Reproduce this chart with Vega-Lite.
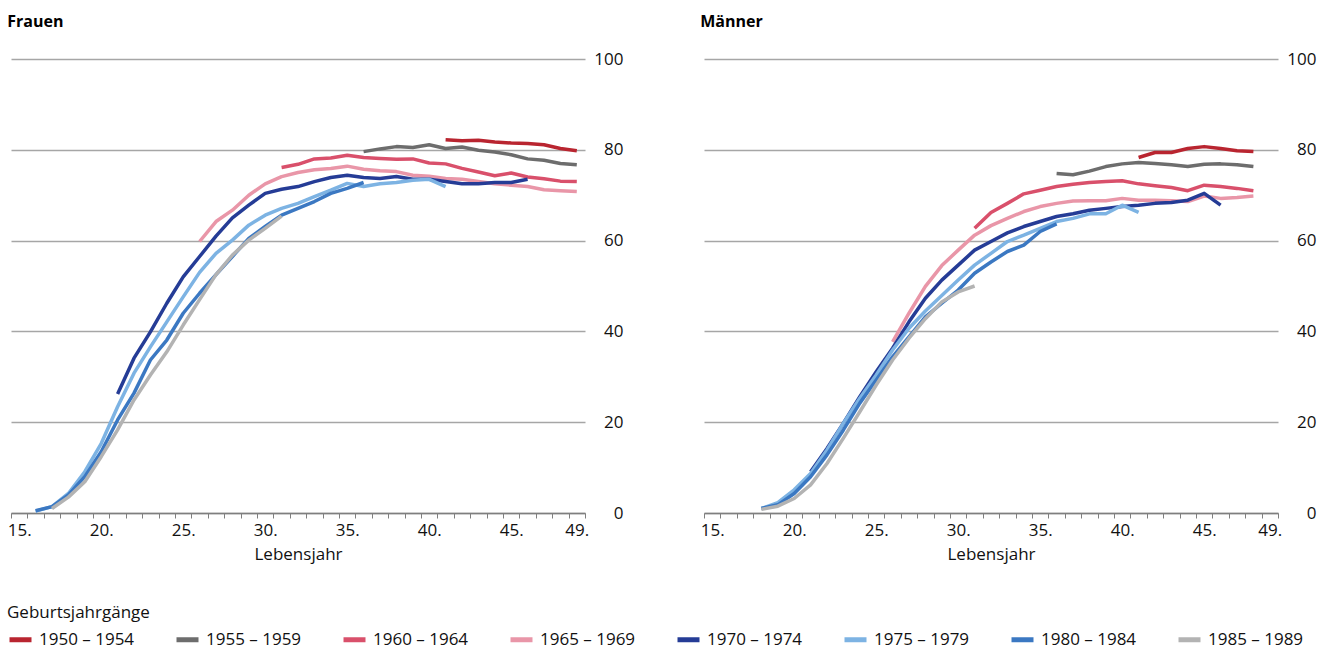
{
  "$schema": "https://vega.github.io/schema/vega-lite/v6.json",
  "padding": {"left": 7, "top": 14, "right": 5, "bottom": 0},
  "config": {
    "font": "Open Sans",
    "view": {"stroke": null},
    "concat": {"spacing": 77},
    "title": {"fontSize": 16, "fontWeight": "bold", "anchor": "start", "color": "#000", "offset": 20},
    "axis": {"labelFontSize": 17, "labelColor": "#111", "titleFontSize": 17, "titleFontWeight": "normal", "titleColor": "#111"},
    "legend": {
      "orient": "none", "legendX": -4, "legendY": 546, "padding": 0, "direction": "horizontal", "columns": 8,
      "titleFontSize": 17, "titleFontWeight": "normal", "titleColor": "#111",
      "labelFontSize": 17, "labelColor": "#111",
      "symbolType": "stroke", "symbolStrokeWidth": 5, "symbolSize": 484,
      "labelOffset": 5, "columnPadding": 31, "titlePadding": 4
    }
  },
  "datasets": {
    "d": [
      {"g":"F","k":"1950 – 1954","a":41,"v":82.2},{"g":"F","k":"1950 – 1954","a":42,"v":82.0},{"g":"F","k":"1950 – 1954","a":43,"v":82.1},{"g":"F","k":"1950 – 1954","a":44,"v":81.7},{"g":"F","k":"1950 – 1954","a":45,"v":81.5},{"g":"F","k":"1950 – 1954","a":46,"v":81.4},{"g":"F","k":"1950 – 1954","a":47,"v":81.1},{"g":"F","k":"1950 – 1954","a":48,"v":80.3},{"g":"F","k":"1950 – 1954","a":49,"v":79.8},
      {"g":"F","k":"1955 – 1959","a":36,"v":79.6},{"g":"F","k":"1955 – 1959","a":37,"v":80.2},{"g":"F","k":"1955 – 1959","a":38,"v":80.7},{"g":"F","k":"1955 – 1959","a":39,"v":80.5},{"g":"F","k":"1955 – 1959","a":40,"v":81.1},{"g":"F","k":"1955 – 1959","a":41,"v":80.3},{"g":"F","k":"1955 – 1959","a":42,"v":80.6},{"g":"F","k":"1955 – 1959","a":43,"v":79.9},{"g":"F","k":"1955 – 1959","a":44,"v":79.5},{"g":"F","k":"1955 – 1959","a":45,"v":78.9},{"g":"F","k":"1955 – 1959","a":46,"v":78.0},{"g":"F","k":"1955 – 1959","a":47,"v":77.7},{"g":"F","k":"1955 – 1959","a":48,"v":77.0},{"g":"F","k":"1955 – 1959","a":49,"v":76.7},
      {"g":"F","k":"1960 – 1964","a":31,"v":76.1},{"g":"F","k":"1960 – 1964","a":32,"v":76.8},{"g":"F","k":"1960 – 1964","a":33,"v":78.0},{"g":"F","k":"1960 – 1964","a":34,"v":78.2},{"g":"F","k":"1960 – 1964","a":35,"v":78.8},{"g":"F","k":"1960 – 1964","a":36,"v":78.3},{"g":"F","k":"1960 – 1964","a":37,"v":78.1},{"g":"F","k":"1960 – 1964","a":38,"v":77.9},{"g":"F","k":"1960 – 1964","a":39,"v":78.0},{"g":"F","k":"1960 – 1964","a":40,"v":77.1},{"g":"F","k":"1960 – 1964","a":41,"v":76.9},{"g":"F","k":"1960 – 1964","a":42,"v":75.9},{"g":"F","k":"1960 – 1964","a":43,"v":75.1},{"g":"F","k":"1960 – 1964","a":44,"v":74.3},{"g":"F","k":"1960 – 1964","a":45,"v":74.9},{"g":"F","k":"1960 – 1964","a":46,"v":74.0},{"g":"F","k":"1960 – 1964","a":47,"v":73.6},{"g":"F","k":"1960 – 1964","a":48,"v":73.1},{"g":"F","k":"1960 – 1964","a":49,"v":73.0},
      {"g":"F","k":"1965 – 1969","a":26,"v":59.8},{"g":"F","k":"1965 – 1969","a":27,"v":64.2},{"g":"F","k":"1965 – 1969","a":28,"v":66.7},{"g":"F","k":"1965 – 1969","a":29,"v":70.0},{"g":"F","k":"1965 – 1969","a":30,"v":72.5},{"g":"F","k":"1965 – 1969","a":31,"v":74.1},{"g":"F","k":"1965 – 1969","a":32,"v":75.0},{"g":"F","k":"1965 – 1969","a":33,"v":75.6},{"g":"F","k":"1965 – 1969","a":34,"v":75.9},{"g":"F","k":"1965 – 1969","a":35,"v":76.4},{"g":"F","k":"1965 – 1969","a":36,"v":75.7},{"g":"F","k":"1965 – 1969","a":37,"v":75.4},{"g":"F","k":"1965 – 1969","a":38,"v":75.2},{"g":"F","k":"1965 – 1969","a":39,"v":74.4},{"g":"F","k":"1965 – 1969","a":40,"v":74.2},{"g":"F","k":"1965 – 1969","a":41,"v":73.7},{"g":"F","k":"1965 – 1969","a":42,"v":73.5},{"g":"F","k":"1965 – 1969","a":43,"v":73.0},{"g":"F","k":"1965 – 1969","a":44,"v":72.5},{"g":"F","k":"1965 – 1969","a":45,"v":72.2},{"g":"F","k":"1965 – 1969","a":46,"v":71.9},{"g":"F","k":"1965 – 1969","a":47,"v":71.2},{"g":"F","k":"1965 – 1969","a":48,"v":71.0},{"g":"F","k":"1965 – 1969","a":49,"v":70.8},
      {"g":"F","k":"1970 – 1974","a":21,"v":26.2},{"g":"F","k":"1970 – 1974","a":22,"v":34.1},{"g":"F","k":"1970 – 1974","a":23,"v":39.9},{"g":"F","k":"1970 – 1974","a":24,"v":46.2},{"g":"F","k":"1970 – 1974","a":25,"v":52.0},{"g":"F","k":"1970 – 1974","a":26,"v":56.5},{"g":"F","k":"1970 – 1974","a":27,"v":61.0},{"g":"F","k":"1970 – 1974","a":28,"v":65.0},{"g":"F","k":"1970 – 1974","a":29,"v":67.8},{"g":"F","k":"1970 – 1974","a":30,"v":70.4},{"g":"F","k":"1970 – 1974","a":31,"v":71.3},{"g":"F","k":"1970 – 1974","a":32,"v":71.9},{"g":"F","k":"1970 – 1974","a":33,"v":73.0},{"g":"F","k":"1970 – 1974","a":34,"v":73.9},{"g":"F","k":"1970 – 1974","a":35,"v":74.4},{"g":"F","k":"1970 – 1974","a":36,"v":73.9},{"g":"F","k":"1970 – 1974","a":37,"v":73.7},{"g":"F","k":"1970 – 1974","a":38,"v":74.1},{"g":"F","k":"1970 – 1974","a":39,"v":73.5},{"g":"F","k":"1970 – 1974","a":40,"v":73.5},{"g":"F","k":"1970 – 1974","a":41,"v":73.0},{"g":"F","k":"1970 – 1974","a":42,"v":72.5},{"g":"F","k":"1970 – 1974","a":43,"v":72.5},{"g":"F","k":"1970 – 1974","a":44,"v":72.8},{"g":"F","k":"1970 – 1974","a":45,"v":72.8},{"g":"F","k":"1970 – 1974","a":46,"v":73.5},
      {"g":"F","k":"1975 – 1979","a":16,"v":0.4},{"g":"F","k":"1975 – 1979","a":17,"v":1.4},{"g":"F","k":"1975 – 1979","a":18,"v":4.3},{"g":"F","k":"1975 – 1979","a":19,"v":9.1},{"g":"F","k":"1975 – 1979","a":20,"v":15.3},{"g":"F","k":"1975 – 1979","a":21,"v":23.4},{"g":"F","k":"1975 – 1979","a":22,"v":30.8},{"g":"F","k":"1975 – 1979","a":23,"v":36.6},{"g":"F","k":"1975 – 1979","a":24,"v":42.1},{"g":"F","k":"1975 – 1979","a":25,"v":47.6},{"g":"F","k":"1975 – 1979","a":26,"v":53.0},{"g":"F","k":"1975 – 1979","a":27,"v":57.2},{"g":"F","k":"1975 – 1979","a":28,"v":60.1},{"g":"F","k":"1975 – 1979","a":29,"v":63.4},{"g":"F","k":"1975 – 1979","a":30,"v":65.6},{"g":"F","k":"1975 – 1979","a":31,"v":67.1},{"g":"F","k":"1975 – 1979","a":32,"v":68.2},{"g":"F","k":"1975 – 1979","a":33,"v":69.7},{"g":"F","k":"1975 – 1979","a":34,"v":71.1},{"g":"F","k":"1975 – 1979","a":35,"v":72.6},{"g":"F","k":"1975 – 1979","a":36,"v":71.9},{"g":"F","k":"1975 – 1979","a":37,"v":72.5},{"g":"F","k":"1975 – 1979","a":38,"v":72.8},{"g":"F","k":"1975 – 1979","a":39,"v":73.3},{"g":"F","k":"1975 – 1979","a":40,"v":73.5},{"g":"F","k":"1975 – 1979","a":41,"v":71.9},
      {"g":"F","k":"1980 – 1984","a":16,"v":0.5},{"g":"F","k":"1980 – 1984","a":17,"v":1.4},{"g":"F","k":"1980 – 1984","a":18,"v":4.0},{"g":"F","k":"1980 – 1984","a":19,"v":8.0},{"g":"F","k":"1980 – 1984","a":20,"v":13.5},{"g":"F","k":"1980 – 1984","a":21,"v":20.5},{"g":"F","k":"1980 – 1984","a":22,"v":26.4},{"g":"F","k":"1980 – 1984","a":23,"v":33.7},{"g":"F","k":"1980 – 1984","a":24,"v":38.1},{"g":"F","k":"1980 – 1984","a":25,"v":44.0},{"g":"F","k":"1980 – 1984","a":26,"v":48.4},{"g":"F","k":"1980 – 1984","a":27,"v":52.5},{"g":"F","k":"1980 – 1984","a":28,"v":56.5},{"g":"F","k":"1980 – 1984","a":29,"v":60.5},{"g":"F","k":"1980 – 1984","a":30,"v":63.1},{"g":"F","k":"1980 – 1984","a":31,"v":65.6},{"g":"F","k":"1980 – 1984","a":32,"v":67.1},{"g":"F","k":"1980 – 1984","a":33,"v":68.6},{"g":"F","k":"1980 – 1984","a":34,"v":70.4},{"g":"F","k":"1980 – 1984","a":35,"v":71.5},{"g":"F","k":"1980 – 1984","a":36,"v":72.8},
      {"g":"F","k":"1985 – 1989","a":17,"v":1.0},{"g":"F","k":"1985 – 1989","a":18,"v":3.5},{"g":"F","k":"1985 – 1989","a":19,"v":6.9},{"g":"F","k":"1985 – 1989","a":20,"v":12.4},{"g":"F","k":"1985 – 1989","a":21,"v":18.3},{"g":"F","k":"1985 – 1989","a":22,"v":24.9},{"g":"F","k":"1985 – 1989","a":23,"v":30.4},{"g":"F","k":"1985 – 1989","a":24,"v":35.5},{"g":"F","k":"1985 – 1989","a":25,"v":41.4},{"g":"F","k":"1985 – 1989","a":26,"v":47.0},{"g":"F","k":"1985 – 1989","a":27,"v":52.5},{"g":"F","k":"1985 – 1989","a":28,"v":56.8},{"g":"F","k":"1985 – 1989","a":29,"v":60.1},{"g":"F","k":"1985 – 1989","a":30,"v":62.7},{"g":"F","k":"1985 – 1989","a":31,"v":65.4},

      {"g":"M","k":"1950 – 1954","a":41,"v":78.3},{"g":"M","k":"1950 – 1954","a":42,"v":79.4},{"g":"M","k":"1950 – 1954","a":43,"v":79.4},{"g":"M","k":"1950 – 1954","a":44,"v":80.3},{"g":"M","k":"1950 – 1954","a":45,"v":80.7},{"g":"M","k":"1950 – 1954","a":46,"v":80.3},{"g":"M","k":"1950 – 1954","a":47,"v":79.8},{"g":"M","k":"1950 – 1954","a":48,"v":79.6},
      {"g":"M","k":"1955 – 1959","a":36,"v":74.8},{"g":"M","k":"1955 – 1959","a":37,"v":74.5},{"g":"M","k":"1955 – 1959","a":38,"v":75.3},{"g":"M","k":"1955 – 1959","a":39,"v":76.3},{"g":"M","k":"1955 – 1959","a":40,"v":76.9},{"g":"M","k":"1955 – 1959","a":41,"v":77.2},{"g":"M","k":"1955 – 1959","a":42,"v":77.0},{"g":"M","k":"1955 – 1959","a":43,"v":76.7},{"g":"M","k":"1955 – 1959","a":44,"v":76.3},{"g":"M","k":"1955 – 1959","a":45,"v":76.8},{"g":"M","k":"1955 – 1959","a":46,"v":76.9},{"g":"M","k":"1955 – 1959","a":47,"v":76.7},{"g":"M","k":"1955 – 1959","a":48,"v":76.3},
      {"g":"M","k":"1960 – 1964","a":31,"v":62.7},{"g":"M","k":"1960 – 1964","a":32,"v":66.2},{"g":"M","k":"1960 – 1964","a":33,"v":68.2},{"g":"M","k":"1960 – 1964","a":34,"v":70.3},{"g":"M","k":"1960 – 1964","a":35,"v":71.1},{"g":"M","k":"1960 – 1964","a":36,"v":71.9},{"g":"M","k":"1960 – 1964","a":37,"v":72.4},{"g":"M","k":"1960 – 1964","a":38,"v":72.8},{"g":"M","k":"1960 – 1964","a":39,"v":73.0},{"g":"M","k":"1960 – 1964","a":40,"v":73.2},{"g":"M","k":"1960 – 1964","a":41,"v":72.5},{"g":"M","k":"1960 – 1964","a":42,"v":72.1},{"g":"M","k":"1960 – 1964","a":43,"v":71.7},{"g":"M","k":"1960 – 1964","a":44,"v":71.0},{"g":"M","k":"1960 – 1964","a":45,"v":72.2},{"g":"M","k":"1960 – 1964","a":46,"v":71.9},{"g":"M","k":"1960 – 1964","a":47,"v":71.5},{"g":"M","k":"1960 – 1964","a":48,"v":71.0},
      {"g":"M","k":"1965 – 1969","a":26,"v":37.7},{"g":"M","k":"1965 – 1969","a":27,"v":44.0},{"g":"M","k":"1965 – 1969","a":28,"v":49.9},{"g":"M","k":"1965 – 1969","a":29,"v":54.5},{"g":"M","k":"1965 – 1969","a":30,"v":57.9},{"g":"M","k":"1965 – 1969","a":31,"v":61.2},{"g":"M","k":"1965 – 1969","a":32,"v":63.3},{"g":"M","k":"1965 – 1969","a":33,"v":64.9},{"g":"M","k":"1965 – 1969","a":34,"v":66.4},{"g":"M","k":"1965 – 1969","a":35,"v":67.5},{"g":"M","k":"1965 – 1969","a":36,"v":68.2},{"g":"M","k":"1965 – 1969","a":37,"v":68.7},{"g":"M","k":"1965 – 1969","a":38,"v":68.8},{"g":"M","k":"1965 – 1969","a":39,"v":68.8},{"g":"M","k":"1965 – 1969","a":40,"v":69.3},{"g":"M","k":"1965 – 1969","a":41,"v":68.9},{"g":"M","k":"1965 – 1969","a":42,"v":68.9},{"g":"M","k":"1965 – 1969","a":43,"v":68.8},{"g":"M","k":"1965 – 1969","a":44,"v":68.6},{"g":"M","k":"1965 – 1969","a":45,"v":69.8},{"g":"M","k":"1965 – 1969","a":46,"v":69.3},{"g":"M","k":"1965 – 1969","a":47,"v":69.5},{"g":"M","k":"1965 – 1969","a":48,"v":69.8},
      {"g":"M","k":"1970 – 1974","a":21,"v":9.1},{"g":"M","k":"1970 – 1974","a":22,"v":14.2},{"g":"M","k":"1970 – 1974","a":23,"v":19.8},{"g":"M","k":"1970 – 1974","a":24,"v":25.6},{"g":"M","k":"1970 – 1974","a":25,"v":31.1},{"g":"M","k":"1970 – 1974","a":26,"v":36.3},{"g":"M","k":"1970 – 1974","a":27,"v":42.1},{"g":"M","k":"1970 – 1974","a":28,"v":47.3},{"g":"M","k":"1970 – 1974","a":29,"v":51.3},{"g":"M","k":"1970 – 1974","a":30,"v":54.6},{"g":"M","k":"1970 – 1974","a":31,"v":57.9},{"g":"M","k":"1970 – 1974","a":32,"v":59.8},{"g":"M","k":"1970 – 1974","a":33,"v":61.7},{"g":"M","k":"1970 – 1974","a":34,"v":63.1},{"g":"M","k":"1970 – 1974","a":35,"v":64.2},{"g":"M","k":"1970 – 1974","a":36,"v":65.3},{"g":"M","k":"1970 – 1974","a":37,"v":65.9},{"g":"M","k":"1970 – 1974","a":38,"v":66.7},{"g":"M","k":"1970 – 1974","a":39,"v":67.1},{"g":"M","k":"1970 – 1974","a":40,"v":67.5},{"g":"M","k":"1970 – 1974","a":41,"v":67.8},{"g":"M","k":"1970 – 1974","a":42,"v":68.2},{"g":"M","k":"1970 – 1974","a":43,"v":68.4},{"g":"M","k":"1970 – 1974","a":44,"v":68.9},{"g":"M","k":"1970 – 1974","a":45,"v":70.4},{"g":"M","k":"1970 – 1974","a":46,"v":67.8},
      {"g":"M","k":"1975 – 1979","a":18,"v":1.0},{"g":"M","k":"1975 – 1979","a":19,"v":2.3},{"g":"M","k":"1975 – 1979","a":20,"v":5.1},{"g":"M","k":"1975 – 1979","a":21,"v":8.7},{"g":"M","k":"1975 – 1979","a":22,"v":13.9},{"g":"M","k":"1975 – 1979","a":23,"v":19.8},{"g":"M","k":"1975 – 1979","a":24,"v":25.3},{"g":"M","k":"1975 – 1979","a":25,"v":30.4},{"g":"M","k":"1975 – 1979","a":26,"v":35.9},{"g":"M","k":"1975 – 1979","a":27,"v":40.7},{"g":"M","k":"1975 – 1979","a":28,"v":44.5},{"g":"M","k":"1975 – 1979","a":29,"v":47.9},{"g":"M","k":"1975 – 1979","a":30,"v":51.3},{"g":"M","k":"1975 – 1979","a":31,"v":54.6},{"g":"M","k":"1975 – 1979","a":32,"v":57.2},{"g":"M","k":"1975 – 1979","a":33,"v":59.8},{"g":"M","k":"1975 – 1979","a":34,"v":61.2},{"g":"M","k":"1975 – 1979","a":35,"v":62.7},{"g":"M","k":"1975 – 1979","a":36,"v":64.2},{"g":"M","k":"1975 – 1979","a":37,"v":64.9},{"g":"M","k":"1975 – 1979","a":38,"v":65.9},{"g":"M","k":"1975 – 1979","a":39,"v":65.9},{"g":"M","k":"1975 – 1979","a":40,"v":67.8},{"g":"M","k":"1975 – 1979","a":41,"v":66.2},
      {"g":"M","k":"1980 – 1984","a":18,"v":1.0},{"g":"M","k":"1980 – 1984","a":19,"v":1.8},{"g":"M","k":"1980 – 1984","a":20,"v":4.3},{"g":"M","k":"1980 – 1984","a":21,"v":8.0},{"g":"M","k":"1980 – 1984","a":22,"v":12.8},{"g":"M","k":"1980 – 1984","a":23,"v":18.3},{"g":"M","k":"1980 – 1984","a":24,"v":24.2},{"g":"M","k":"1980 – 1984","a":25,"v":29.3},{"g":"M","k":"1980 – 1984","a":26,"v":34.4},{"g":"M","k":"1980 – 1984","a":27,"v":38.8},{"g":"M","k":"1980 – 1984","a":28,"v":43.2},{"g":"M","k":"1980 – 1984","a":29,"v":46.2},{"g":"M","k":"1980 – 1984","a":30,"v":49.1},{"g":"M","k":"1980 – 1984","a":31,"v":52.8},{"g":"M","k":"1980 – 1984","a":32,"v":55.3},{"g":"M","k":"1980 – 1984","a":33,"v":57.6},{"g":"M","k":"1980 – 1984","a":34,"v":59.0},{"g":"M","k":"1980 – 1984","a":35,"v":62.0},{"g":"M","k":"1980 – 1984","a":36,"v":63.7},
      {"g":"M","k":"1985 – 1989","a":18,"v":0.8},{"g":"M","k":"1985 – 1989","a":19,"v":1.5},{"g":"M","k":"1985 – 1989","a":20,"v":3.2},{"g":"M","k":"1985 – 1989","a":21,"v":6.2},{"g":"M","k":"1985 – 1989","a":22,"v":10.9},{"g":"M","k":"1985 – 1989","a":23,"v":16.5},{"g":"M","k":"1985 – 1989","a":24,"v":22.3},{"g":"M","k":"1985 – 1989","a":25,"v":28.2},{"g":"M","k":"1985 – 1989","a":26,"v":33.7},{"g":"M","k":"1985 – 1989","a":27,"v":38.5},{"g":"M","k":"1985 – 1989","a":28,"v":42.8},{"g":"M","k":"1985 – 1989","a":29,"v":46.5},{"g":"M","k":"1985 – 1989","a":30,"v":48.7},{"g":"M","k":"1985 – 1989","a":31,"v":50.0}
    ]
  },
  "hconcat": [
    {
      "title": "Frauen",
      "width": 574, "height": 454,
      "data": {"name": "d"},
      "transform": [{"filter": "datum.g == 'F'"}],
      "mark": {"type": "line", "strokeWidth": 3.5, "strokeJoin": "round"},
      "encoding": {
        "x": {"field": "a", "type": "quantitative",
          "scale": {"domain": [14.5, 49.5], "nice": false, "zero": false},
          "axis": {"title": "Lebensjahr", "values": [14.5,15.5,16.5,17.5,18.5,19.5,20.5,21.5,22.5,23.5,24.5,25.5,26.5,27.5,28.5,29.5,30.5,31.5,32.5,33.5,34.5,35.5,36.5,37.5,38.5,39.5,40.5,41.5,42.5,43.5,44.5,45.5,46.5,47.5,48.5,49.5],
            "labelExpr": "indexof([15,20,25,30,35,40,45,49], datum.value + 0.5) >= 0 ? (datum.value + 0.5) + '.' : ''",
            "labelOffset": 8.2, "labelOverlap": false, "labelFlush": false, "grid": false,
            "domainColor": "#7f7f7f", "domainWidth": 1.5, "tickColor": "#7f7f7f", "tickSize": 5, "tickWidth": 1,
            "labelPadding": 4, "titlePadding": 8}},
        "y": {"field": "v", "type": "quantitative",
          "scale": {"domain": [0, 100], "nice": false},
          "axis": {"orient": "right", "title": null, "values": [0,20,40,60,80,100], "grid": true, "gridColor": "#a6a6a6", "gridWidth": 1.5,
            "domain": false, "ticks": false, "tickSize": 0, "labelAlign": "right", "labelPadding": 38, "labelBaseline": "middle"}},
        "color": {"field": "k", "type": "nominal",
          "scale": {"domain": ["1950 – 1954","1955 – 1959","1960 – 1964","1965 – 1969","1970 – 1974","1975 – 1979","1980 – 1984","1985 – 1989"],
            "range": ["#b92530","#6d6d6d","#d9506b","#e996a8","#253c96","#7db3e3","#3b78c2","#b3b3b3"]},
          "legend": {"title": "Geburtsjahrgänge"}}
      }
    },
    {
      "title": "Männer",
      "width": 574, "height": 454,
      "data": {"name": "d"},
      "transform": [{"filter": "datum.g == 'M'"}],
      "mark": {"type": "line", "strokeWidth": 3.5, "strokeJoin": "round"},
      "encoding": {
        "x": {"field": "a", "type": "quantitative",
          "scale": {"domain": [14.5, 49.5], "nice": false, "zero": false},
          "axis": {"title": "Lebensjahr", "values": [14.5,15.5,16.5,17.5,18.5,19.5,20.5,21.5,22.5,23.5,24.5,25.5,26.5,27.5,28.5,29.5,30.5,31.5,32.5,33.5,34.5,35.5,36.5,37.5,38.5,39.5,40.5,41.5,42.5,43.5,44.5,45.5,46.5,47.5,48.5,49.5],
            "labelExpr": "indexof([15,20,25,30,35,40,45,49], datum.value + 0.5) >= 0 ? (datum.value + 0.5) + '.' : ''",
            "labelOffset": 8.2, "labelOverlap": false, "labelFlush": false, "grid": false,
            "domainColor": "#7f7f7f", "domainWidth": 1.5, "tickColor": "#7f7f7f", "tickSize": 5, "tickWidth": 1,
            "labelPadding": 4, "titlePadding": 8}},
        "y": {"field": "v", "type": "quantitative",
          "scale": {"domain": [0, 100], "nice": false},
          "axis": {"orient": "right", "title": null, "values": [0,20,40,60,80,100], "grid": true, "gridColor": "#a6a6a6", "gridWidth": 1.5,
            "domain": false, "ticks": false, "tickSize": 0, "labelAlign": "right", "labelPadding": 38, "labelBaseline": "middle"}},
        "color": {"field": "k", "type": "nominal",
          "scale": {"domain": ["1950 – 1954","1955 – 1959","1960 – 1964","1965 – 1969","1970 – 1974","1975 – 1979","1980 – 1984","1985 – 1989"],
            "range": ["#b92530","#6d6d6d","#d9506b","#e996a8","#253c96","#7db3e3","#3b78c2","#b3b3b3"]},
          "legend": {"title": "Geburtsjahrgänge"}}
      }
    }
  ]
}
